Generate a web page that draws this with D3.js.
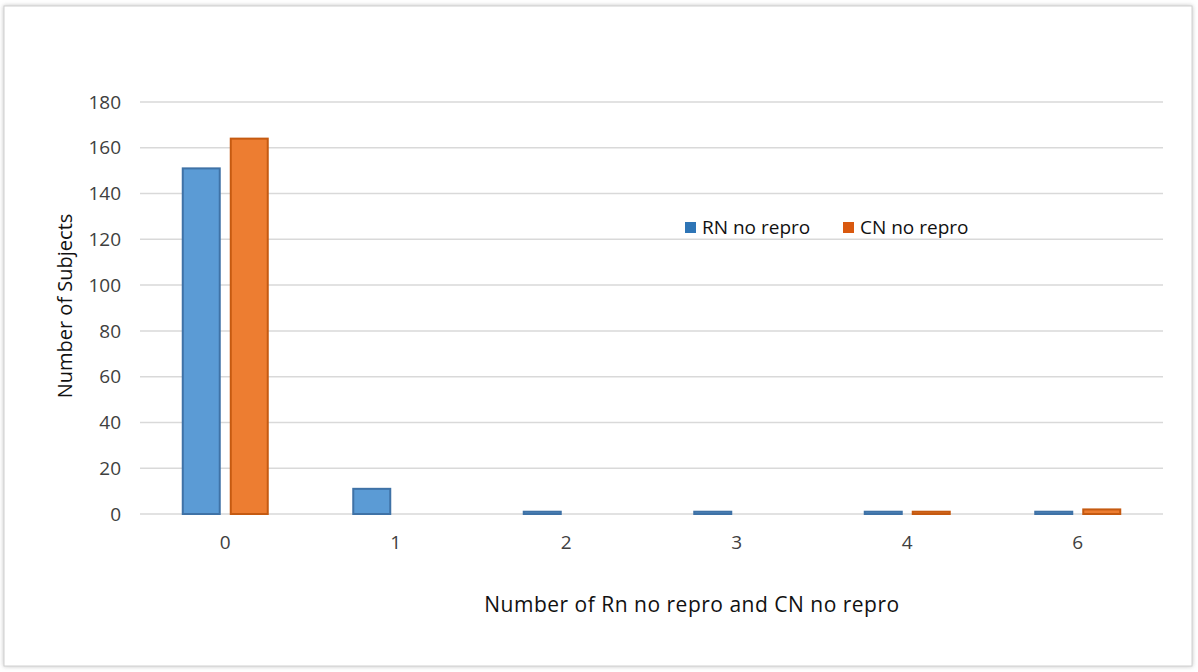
<!DOCTYPE html>
<html lang="en">
<head>
    <meta charset="UTF-8">
    <title>Number of Subjects</title>
    <script src="https://d3js.org/d3.v7.min.js"></script>
    <style>
        body { margin: 0; background: #fff; }
        text { font-family: "Open Sans", sans-serif; fill: #404040; }
        .grid line { stroke: #d9d9d9; stroke-width: 1.5px; }
    </style>
</head>
<body>
<script>
    const categories = ['0', '1', '2', '3', '4', '6'];
    const rnNoRepro = [151, 11, 1, 1, 1, 1];
    const cnNoRepro = [164, 0, 0, 0, 1, 2];
    const yTicks = [0, 20, 40, 60, 80, 100, 120, 140, 160, 180];
    const seriesNames = ['RN no repro', 'CN no repro'];

    const width = 1198;
    const height = 672;
    const margin = { top: 102, right: 35, bottom: 158, left: 140 };

    const svg = d3.select('body').append('svg')
        .attr('width', width)
        .attr('height', height);

    // outer frame with soft shadow
    const defs = svg.append('defs');
    const f = defs.append('filter').attr('id', 'shadow').attr('x', '-5%').attr('y', '-5%').attr('width', '110%').attr('height', '110%');
    f.append('feDropShadow').attr('dx', 0).attr('dy', 0).attr('stdDeviation', 2).attr('flood-color', '#999').attr('flood-opacity', 0.6);

    svg.append('rect')
        .attr('x', 4).attr('y', 6)
        .attr('width', 1188).attr('height', 660)
        .attr('fill', '#fff')
        .attr('stroke', '#d0d0d0')
        .attr('filter', 'url(#shadow)');

    const x = d3.scaleBand()
        .domain(categories)
        .range([margin.left, width - margin.right]);

    const y = d3.scaleLinear()
        .domain([0, 180])
        .range([height - margin.bottom, margin.top]);

    const g = svg.append('g');

    // gridlines
    g.append('g')
        .attr('class', 'grid')
        .selectAll('line')
        .data(yTicks)
        .enter().append('line')
        .attr('x1', margin.left)
        .attr('x2', width - margin.right)
        .attr('y1', d => y(d))
        .attr('y2', d => y(d));

    // y tick labels
    g.append('g')
        .selectAll('text')
        .data(yTicks)
        .enter().append('text')
        .attr('x', 121)
        .attr('y', d => y(d))
        .attr('dy', '0.35em')
        .attr('text-anchor', 'end')
        .style('font-size', '19px')
        .text(d => d);

    // x tick labels
    g.append('g')
        .selectAll('text')
        .data(categories)
        .enter().append('text')
        .attr('x', d => x(d) + x.bandwidth() / 2)
        .attr('y', 549)
        .attr('text-anchor', 'middle')
        .style('font-size', '19px')
        .text(d => d);

    // two bars per category: 37px wide, 11px apart
    const half = 42.5;
    const inner = d3.scaleBand()
        .domain(seriesNames)
        .range([x.bandwidth() / 2 - half, x.bandwidth() / 2 + half])
        .paddingInner(11 / 48)
        .paddingOuter(0);

    const fills = ['#5b9bd5', '#ed7d31'];
    const strokes = ['#3f72a6', '#c55a11'];
    const legendFills = ['#2e75b6', '#d9590f'];

    const rows = categories.map((c, i) => ({ cat: c, vals: [rnNoRepro[i], cnNoRepro[i]] }));

    const groups = g.append('g')
        .selectAll('g')
        .data(rows)
        .enter().append('g')
        .attr('transform', d => `translate(${x(d.cat)},0)`);

    groups.selectAll('rect')
        .data(d => d.vals.map((v, j) => ({ v, j })).filter(e => e.v > 0))
        .enter().append('rect')
        .attr('x', d => inner(seriesNames[d.j]))
        .attr('width', inner.bandwidth())
        .attr('y', d => y(d.v))
        .attr('height', d => y(0) - y(d.v))
        .attr('fill', d => fills[d.j])
        .attr('stroke', d => strokes[d.j])
        .attr('stroke-width', 2);

    // axis titles
    svg.append('text')
        .attr('transform', `translate(72,306) rotate(-90)`)
        .attr('text-anchor', 'middle')
        .style('font-size', '20px')
        .style('fill', '#111')
        .text('Number of Subjects');

    svg.append('text')
        .attr('x', 692)
        .attr('y', 612)
        .attr('text-anchor', 'middle')
        .style('font-size', '21px')
        .style('letter-spacing', '0.5px')
        .style('fill', '#111')
        .text('Number of Rn no repro and CN no repro');

    // legend
    const legend = svg.append('g');
    const legendX = [685, 843];
    seriesNames.forEach((name, i) => {
        legend.append('rect')
            .attr('x', legendX[i]).attr('y', 222)
            .attr('width', 11).attr('height', 11)
            .attr('fill', legendFills[i]);
        legend.append('text')
            .attr('x', legendX[i] + 17).attr('y', 227.5)
            .attr('dy', '0.35em')
            .style('font-size', '19px')
            .style('fill', '#111')
            .text(name);
    });
</script>
</body>
</html>
